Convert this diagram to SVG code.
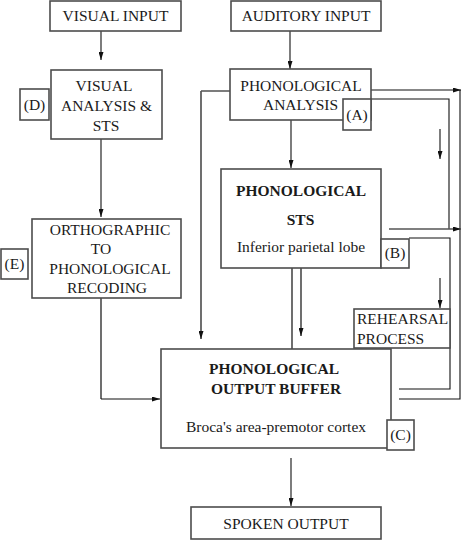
<svg xmlns="http://www.w3.org/2000/svg" width="462" height="540" viewBox="0 0 462 540">
<style>
.box{fill:#fff;stroke:#4d4d4d;stroke-width:1.6}
.t{font-family:"Liberation Serif","Times New Roman",serif;font-size:15.5px;fill:#1a1a1a;text-anchor:middle}
.b{font-weight:bold}
.s{text-anchor:start}
.c{fill:none;stroke:#111;stroke-width:1.1}
.g{fill:none;stroke:#555;stroke-width:1.7}
</style>
<defs>
<marker id="ah" viewBox="0 0 8 5" refX="8" refY="2.5" markerWidth="8" markerHeight="5" markerUnits="userSpaceOnUse" orient="auto">
<path d="M0,0 L8,2.5 L0,5 z" fill="#111"/>
</marker>
</defs>
<g id="connectors">
<path class="c" d="M101,31 V60" marker-end="url(#ah)"/>
<path class="c" d="M101,139 V217" marker-end="url(#ah)"/>
<path class="g" d="M101,298 V399"/>
<path class="c" d="M101,399 H160" marker-end="url(#ah)"/>
<path class="c" d="M290,31 V69" marker-end="url(#ah)"/>
<path class="c" d="M291,120 V168" marker-end="url(#ah)"/>
<path class="c" d="M230,91 H201"/>
<path class="g" d="M201,91 V339" marker-end="url(#ah)"/>
<path class="g" d="M292,268 V349"/>
<path class="g" d="M301,268 V336" marker-end="url(#ah)"/>
<path class="c" d="M371,90 H461" marker-end="url(#ah)"/>
<path class="c" d="M460,90 V399 H399"/>
<path class="c" d="M371,99 H449 V229"/>
<path class="c" d="M440,129 V159" marker-end="url(#ah)"/>
<path class="g" d="M389,229 H461" marker-end="url(#ah)"/>
<path class="c" d="M409,238 H450 V389 H399"/>
<path class="c" d="M440,278 V308" marker-end="url(#ah)"/>
<path class="c" d="M291,458 V506" marker-end="url(#ah)"/>
</g>
<g id="visual-input">
<rect class="box" x="50" y="1" width="131" height="30"/>
<text class="t" x="115.5" y="21">VISUAL INPUT</text>
</g>
<g id="auditory-input">
<rect class="box" x="231" y="1" width="150" height="30"/>
<text class="t" x="306" y="21">AUDITORY INPUT</text>
</g>
<g id="visual-analysis">
<rect class="box" x="51" y="70" width="111" height="69"/>
<text class="t" x="104" y="91">VISUAL</text>
<text class="t" x="106.5" y="111">ANALYSIS &amp;</text>
<text class="t" x="106" y="131">STS</text>
</g>
<g id="label-d">
<rect class="box" x="20" y="89" width="29" height="31"/>
<text class="t" x="34.5" y="110">(D)</text>
</g>
<g id="orthographic">
<rect class="box" x="32" y="219" width="149" height="79"/>
<text class="t" x="110" y="235">ORTHOGRAPHIC</text>
<text class="t" x="101" y="254">TO</text>
<text class="t" x="110" y="274">PHONOLOGICAL</text>
<text class="t" x="107" y="293">RECODING</text>
</g>
<g id="label-e">
<rect class="box" x="1" y="249" width="27" height="30"/>
<text class="t" x="14.5" y="269">(E)</text>
</g>
<g id="phonological-analysis">
<rect class="box" x="230" y="69" width="141" height="51"/>
<text class="t" x="301" y="91">PHONOLOGICAL</text>
<text class="t" x="300.5" y="110">ANALYSIS</text>
</g>
<g id="label-a">
<rect class="box" x="343" y="99" width="28" height="31"/>
<text class="t" x="357" y="120">(A)</text>
</g>
<g id="phonological-sts">
<rect class="box" x="221" y="169" width="160" height="99"/>
<text class="t b" x="301" y="196">PHONOLOGICAL</text>
<text class="t b" x="300.5" y="225">STS</text>
<text class="t" x="301" y="252">Inferior parietal lobe</text>
</g>
<g id="label-b">
<rect class="box" x="381" y="239" width="28" height="29"/>
<text class="t" x="395" y="258">(B)</text>
</g>
<g id="rehearsal">
<rect class="box" x="354" y="309" width="96" height="39"/>
<text class="t s" x="357" y="324">REHEARSAL</text>
<text class="t s" x="357" y="344">PROCESS</text>
</g>
<g id="output-buffer">
<rect class="box" x="161" y="349" width="230" height="99"/>
<text class="t b" x="274" y="374">PHONOLOGICAL</text>
<text class="t b" x="276" y="394">OUTPUT BUFFER</text>
<text class="t" x="276" y="432">Broca's area-premotor cortex</text>
</g>
<g id="label-c">
<rect class="box" x="387" y="420" width="27" height="30"/>
<text class="t" x="400.5" y="440">(C)</text>
</g>
<g id="spoken-output">
<rect class="box" x="191" y="507" width="190" height="32"/>
<text class="t" x="286" y="529">SPOKEN OUTPUT</text>
</g>
</svg>
